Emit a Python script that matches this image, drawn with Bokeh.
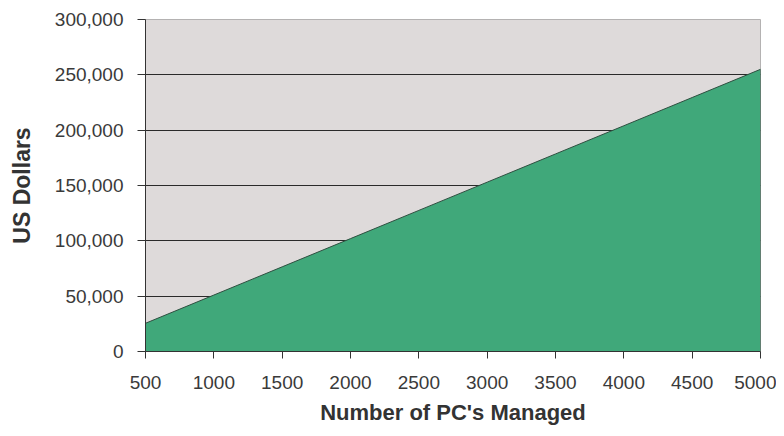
from bokeh.plotting import figure
from bokeh.models import NumeralTickFormatter, FixedTicker, Range1d
from bokeh.embed import file_html
from bokeh.resources import INLINE

# Data
pcs_managed = [500, 1000, 1500, 2000, 2500, 3000, 3500, 4000, 4500, 5000]
us_dollars = [25500, 51000, 76500, 102000, 127500, 153000, 178500, 204000, 229500, 255000]
x_ticks = [500, 1000, 1500, 2000, 2500, 3000, 3500, 4000, 4500, 5000]
y_ticks = [0, 50000, 100000, 150000, 200000, 250000, 300000]

p = figure(width=776, height=428, output_backend="svg", toolbar_location=None,
           x_range=Range1d(500, 5000), y_range=Range1d(0, 300000),
           min_border_left=145, min_border_right=16, min_border_top=19, min_border_bottom=77)

p.border_fill_color = "white"
p.background_fill_color = "#dedada"
p.outline_line_color = "#b4b2b2"
p.outline_line_width = 1

# area (polygon built from the data)
xs = pcs_managed + [pcs_managed[-1], pcs_managed[0]]
ys = us_dollars + [0, 0]
p.patch(xs, ys, fill_color="#40a87a", line_color="#2f4f40", line_width=1)

# grid
p.xgrid.grid_line_color = None
p.ygrid.grid_line_color = "#2a2a2a"
p.ygrid.grid_line_width = 1
p.ygrid.level = "underlay"

p.xaxis.ticker = FixedTicker(ticks=x_ticks)
p.yaxis.ticker = FixedTicker(ticks=y_ticks)
p.yaxis.formatter = NumeralTickFormatter(format="0,0")

for ax in (p.xaxis, p.yaxis):
    ax.axis_line_color = "#333333"
    ax.major_tick_line_color = "#333333"
    ax.minor_tick_line_color = None
    ax.major_tick_in = 0
    ax.major_label_text_font = "Liberation Sans"
    ax.major_label_text_font_size = "19px"
    ax.major_label_text_color = "#3a3a3a"
    ax.axis_label_text_font = "Liberation Sans"
    ax.axis_label_text_font_style = "bold"
    ax.axis_label_text_color = "#333333"

p.yaxis.major_tick_out = 8
p.yaxis.major_label_standoff = 14
p.yaxis.axis_label = "US Dollars"
p.yaxis.axis_label_text_font_size = "23px"
p.yaxis.axis_label_standoff = 17

p.xaxis.major_tick_out = 7
p.xaxis.major_label_standoff = 17
p.xaxis.axis_label = "Number of PC's Managed"
p.xaxis.axis_label_text_font_size = "22px"
p.xaxis.axis_label_standoff = 8

open("out.html", "w").write(file_html(p, INLINE))
